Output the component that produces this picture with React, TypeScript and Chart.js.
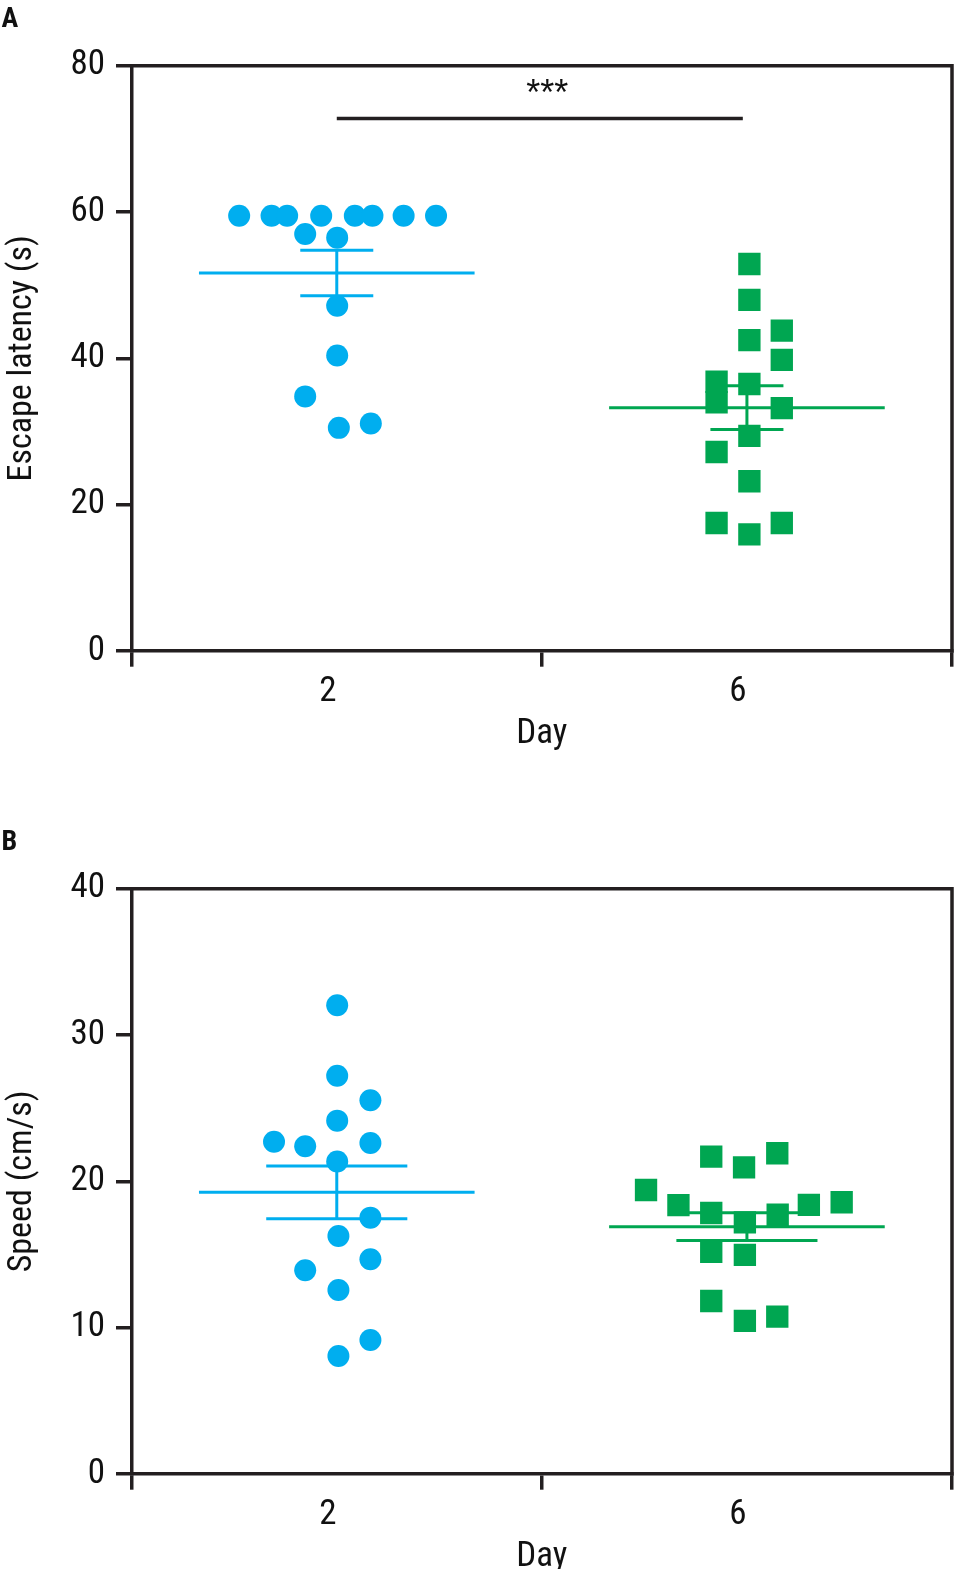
import React, { useEffect, useRef } from "react";
import { Chart, registerables } from "chart.js";

Chart.register(...registerables);

// ---------- data ----------
const DAY_LABELS = ["2", "6"];

// Panel A – escape latency (s)
const LATENCY_DAY2 = [59.5, 59.5, 59.5, 59.5, 59.5, 59.5, 59.5, 59.5, 57.0, 56.5, 47.2, 40.4, 34.8, 30.5, 31.1];
const LATENCY_DAY2_SPREAD = [-0.238, -0.159, -0.121, -0.038, 0.044, 0.087, 0.163, 0.242, -0.077, 0.001, 0.001, 0.001, -0.077, 0.005, 0.083];
const LATENCY_DAY6 = [52.9, 48.0, 43.8, 42.5, 39.8, 36.8, 36.5, 34.0, 33.2, 29.4, 27.2, 23.2, 17.5, 15.95, 17.5];
const LATENCY_DAY6_SPREAD = [0.006, 0.006, 0.085, 0.006, 0.085, -0.074, 0.006, -0.074, 0.085, 0.006, -0.074, 0.006, -0.074, 0.006, 0.085];
const LATENCY_MEAN = [51.67, 33.26];
const LATENCY_SEM = [3.1, 3.0];
const LATENCY_TICKS = [0, 20, 40, 60, 80];
const LATENCY_SIG_TEXT = "***";
const LATENCY_SIG_FROM_TO = [0, 0.99];
const LATENCY_SIG_BAR_Y = 72.8;
const LATENCY_SIG_TEXT_POS = [0.513, 77.1];

// Panel B – speed (cm/s)
const SPEED_DAY2 = [32.04, 27.22, 25.54, 24.15, 22.71, 22.4, 22.62, 21.35, 17.52, 16.27, 14.68, 13.92, 12.58, 9.16, 8.07];
const SPEED_DAY2_SPREAD = [0.001, 0.001, 0.082, 0.001, -0.153, -0.077, 0.082, 0.001, 0.082, 0.004, 0.082, -0.077, 0.004, 0.082, 0.004];
const SPEED_DAY6 = [21.69, 20.96, 21.92, 19.41, 18.37, 17.84, 17.2, 17.72, 18.39, 18.57, 15.19, 14.97, 11.82, 10.46, 10.75];
const SPEED_DAY6_SPREAD = [-0.087, -0.007, 0.074, -0.246, -0.167, -0.087, -0.005, 0.075, 0.151, 0.231, -0.087, -0.005, -0.087, -0.005, 0.074];
const SPEED_MEAN = [19.25, 16.9];
const SPEED_SEM = [1.8, 0.95];
const SPEED_TICKS = [0, 10, 20, 30, 40];

// ---------- styles ----------
const BLUE = "#00AEEF";
const GREEN = "#00A651";
const AXIS = "#231F20";
const TEXT = "#111111";
const FONT =
  "'Liberation Sans Narrow', 'Arial Narrow', 'Roboto Condensed', 'Noto Sans Condensed', 'Open Sans Condensed', 'DejaVu Sans Condensed', sans-serif";
const W = 957;
const H = 823;

Chart.defaults.font.family = FONT;

type Panel = {
  letter: string;
  yTitle: string;
  ticks: number[];
  day2: number[];
  day2Spread: number[];
  day6: number[];
  day6Spread: number[];
  mean: number[];
  sem: number[];
  capHalf: number;
  sig?: { text: string; fromTo: number[]; barY: number; textPos: number[] };
};

const PANELS: Panel[] = [
  {
    letter: "A",
    yTitle: "Escape latency (s)",
    ticks: LATENCY_TICKS,
    day2: LATENCY_DAY2,
    day2Spread: LATENCY_DAY2_SPREAD,
    day6: LATENCY_DAY6,
    day6Spread: LATENCY_DAY6_SPREAD,
    mean: LATENCY_MEAN,
    sem: LATENCY_SEM,
    capHalf: 0.089,
    sig: { text: LATENCY_SIG_TEXT, fromTo: LATENCY_SIG_FROM_TO, barY: LATENCY_SIG_BAR_Y, textPos: LATENCY_SIG_TEXT_POS },
  },
  {
    letter: "B",
    yTitle: "Speed (cm/s)",
    ticks: SPEED_TICKS,
    day2: SPEED_DAY2,
    day2Spread: SPEED_DAY2_SPREAD,
    day6: SPEED_DAY6,
    day6Spread: SPEED_DAY6_SPREAD,
    mean: SPEED_MEAN,
    sem: SPEED_SEM,
    capHalf: 0.172,
  },
];

const MEAN_HALF = 0.336;

function segment(x1: number, x2: number, y1: number, y2: number, color: string, width: number) {
  return {
    type: "scatter" as const,
    data: [
      { x: x1, y: y1 },
      { x: x2, y: y2 },
    ],
    showLine: true,
    borderColor: color,
    borderWidth: width,
    borderCapStyle: "butt",
    pointRadius: 0,
    pointHoverRadius: 0,
    fill: false,
  };
}

const framePlugin = {
  id: "frame",
  afterDraw(chart: any, _args: any, opts: any) {
    const { ctx, chartArea } = chart;
    const { left, top, right, bottom } = chartArea;
    ctx.save();
    ctx.strokeStyle = AXIS;
    ctx.lineWidth = 3.5;
    ctx.lineCap = "butt";
    ctx.lineJoin = "miter";
    ctx.beginPath();
    ctx.moveTo(left - 1.75, top);
    ctx.lineTo(right, top);
    ctx.lineTo(right, bottom + 1.75);
    ctx.stroke();

    ctx.fillStyle = TEXT;
    ctx.font = `bold 28px ${FONT}`;
    ctx.textBaseline = "alphabetic";
    ctx.textAlign = "left";
    ctx.fillText(opts.letter, 1.5, 26.7);

    if (opts.sig) {
      const xs = chart.scales.x;
      const ys = chart.scales.y;
      const size = 36;
      ctx.font = `${size}px 'Liberation Sans', Arial, sans-serif`;
      ctx.textAlign = "center";
      ctx.textBaseline = "middle";
      ctx.fillText(
        opts.sig.text,
        xs.getPixelForValue(opts.sig.textPos[0]),
        ys.getPixelForValue(opts.sig.textPos[1]) + 0.225 * size
      );
    }
    ctx.restore();
  },
};

function buildConfig(p: Panel): any {
  const colors = [BLUE, GREEN];
  const points = [
    {
      type: "scatter",
      data: p.day2.map((v, i) => ({ x: 0 + p.day2Spread[i], y: v })),
      pointStyle: "circle",
      pointRadius: 11,
      pointHoverRadius: 11,
      backgroundColor: BLUE,
      borderWidth: 0,
    },
    {
      type: "scatter",
      data: p.day6.map((v, i) => ({ x: 1 + p.day6Spread[i], y: v })),
      pointStyle: "rect",
      pointRadius: 15.8,
      pointHoverRadius: 15.8,
      backgroundColor: GREEN,
      borderWidth: 0,
    },
  ];
  const lines: any[] = [];
  p.mean.forEach((m, i) => {
    const c = colors[i];
    const s = p.sem[i];
    lines.push(segment(i - MEAN_HALF, i + MEAN_HALF, m, m, c, 3));
    lines.push(segment(i - p.capHalf, i + p.capHalf, m + s, m + s, c, 3));
    lines.push(segment(i - p.capHalf, i + p.capHalf, m - s, m - s, c, 3));
    lines.push(segment(i, i, m - s, m + s, c, 3));
  });
  if (p.sig) {
    lines.push(segment(p.sig.fromTo[0], p.sig.fromTo[1], p.sig.barY, p.sig.barY, AXIS, 3.5));
  }

  const xTickValues: number[] = [];
  DAY_LABELS.forEach((_, i) => {
    xTickValues.push(i - 0.5, i);
  });
  xTickValues.push(DAY_LABELS.length - 0.5);

  const yMax = p.ticks[p.ticks.length - 1];

  return {
    type: "scatter",
    data: { datasets: [...points, ...lines] },
    plugins: [framePlugin],
    options: {
      animation: false,
      responsive: false,
      events: [],
      layout: { autoPadding: false, padding: { top: 65.7, right: 3.7, bottom: 0, left: 0 } },
      plugins: {
        legend: { display: false },
        tooltip: { enabled: false },
        frame: { letter: p.letter, sig: p.sig },
      },
      scales: {
        x: {
          type: "linear",
          min: -0.5,
          max: DAY_LABELS.length - 0.5,
          afterBuildTicks: (s: any) => {
            s.ticks = xTickValues.map((v) => ({ value: v }));
          },
          afterFit: (s: any) => {
            s.height = 172;
          },
          ticks: {
            autoSkip: false,
            maxRotation: 0,
            padding: 5,
            labelOffset: -9,
            color: TEXT,
            font: { size: 35 },
            callback: (v: number) => (Number.isInteger(v) ? DAY_LABELS[v] : ""),
          },
          grid: {
            drawOnChartArea: false,
            drawTicks: true,
            tickLength: 15.7,
            lineWidth: 3.5,
            tickWidth: 3.5,
            tickColor: (ctx: any) => (ctx.tick && Number.isInteger(ctx.tick.value) ? "rgba(0,0,0,0)" : AXIS),
          },
          border: { display: true, color: AXIS, width: 3.5 },
          title: {
            display: true,
            text: "Day",
            color: TEXT,
            font: { size: 35 },
            padding: { top: 0, bottom: 68 },
          },
        },
        y: {
          type: "linear",
          min: 0,
          max: yMax,
          afterBuildTicks: (s: any) => {
            s.ticks = p.ticks.map((v) => ({ value: v }));
          },
          afterFit: (s: any) => {
            s.width = 131.7;
          },
          ticks: {
            autoSkip: false,
            padding: 11,
            color: TEXT,
            font: { size: 35 },
          },
          grid: {
            drawOnChartArea: false,
            drawTicks: true,
            tickLength: 15.7,
            lineWidth: 3.5,
            tickWidth: 3.5,
            tickColor: AXIS,
          },
          border: { display: true, color: AXIS, width: 3.5 },
          title: {
            display: true,
            text: p.yTitle,
            color: TEXT,
            font: { size: 34 },
            padding: { top: 2, bottom: 0 },
          },
        },
      },
    },
  };
}

function PanelChart({ panel, top }: { panel: Panel; top: number }) {
  const ref = useRef<HTMLCanvasElement>(null);
  useEffect(() => {
    if (!ref.current) return;
    const chart = new Chart(ref.current, buildConfig(panel));
    return () => chart.destroy();
  }, [panel]);
  return (
    <canvas
      ref={ref}
      width={W}
      height={H}
      style={{ position: "absolute", left: 0, top, width: W, height: H, display: "block" }}
    />
  );
}

export default function App() {
  return (
    <div
      style={{
        position: "absolute",
        left: 0,
        top: 0,
        width: 957,
        height: 1569,
        overflow: "hidden",
        background: "#ffffff",
      }}
    >
      <PanelChart panel={PANELS[0]} top={0} />
      <PanelChart panel={PANELS[1]} top={823} />
    </div>
  );
}
